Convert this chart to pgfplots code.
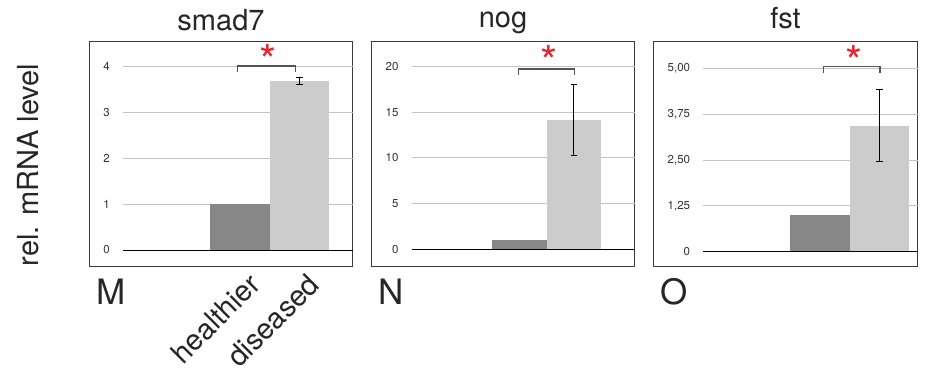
\documentclass[border=0pt]{standalone}
\usepackage{fontspec}
\setmainfont{TeX Gyre Heros}
\usepackage{pgfplots}
\pgfplotsset{compat=1.18}

\definecolor{barDark}{HTML}{878787}
\definecolor{barLight}{HTML}{CBCCCB}
\definecolor{gridGray}{HTML}{C4C4C4}
\definecolor{frameGray}{HTML}{3A3A3A}
\definecolor{brkGray}{HTML}{555555}
\definecolor{starRed}{HTML}{E5262E}

\tikzset{
  grid line/.style={gridGray, line width=1pt},
  zero line/.style={black, line width=1pt},
  bracket/.style={brkGray, line width=1.3pt},
  star/.style={text=starRed, anchor=base, yshift=-25pt,
    font=\fontsize{44}{44}\selectfont},
  letter/.style={anchor=base west, font=\fontsize{35}{35}\selectfont, text=black!85},
}

\pgfplotsset{
  panel/.style={
    scale only axis, clip=false,
    height=225pt,
    axis line style={draw=frameGray, line width=1.1pt},
    tick style={draw=none}, major tick length=0pt,
    xtick=\empty,
    yticklabel style={anchor=east, inner sep=0pt,
      font=\fontsize{11.5}{13}\selectfont, text=black!80},
    title style={at={(0.5,1)}, anchor=base,
      font=\fontsize{29}{34}\selectfont, text=black!85},
  },
  darkbar/.style={ybar, bar width=1, bar shift=0, fill=barDark, draw=none},
  lightbar/.style={ybar, bar width=1, bar shift=0, fill=barLight, draw=none,
    error bars/.cd, y dir=both, y explicit,
    error bar style={black, line width=1.2pt},
    error mark options={rotate=90, mark size=3.3pt, line width=1.2pt, black}},
}

\begin{document}
\begin{tikzpicture}
\path[use as bounding box] (0,0) rectangle (927pt,374pt);

% smad7
\begin{axis}[panel,
  at={(89.5pt,107.5pt)}, anchor=south west, width=263pt,
  xmin=-1.538, xmax=2.897, ymin=-0.360, ymax=4.552,
  ytick={0,1,2,3,4}, yticklabels={0,1,2,3,4},
  yticklabel style={xshift=20.5pt},
  xtick={1,2}, xticklabels={healthier,diseased},
  xticklabel style={xshift=22pt, yshift=-20pt, rotate=45, anchor=base east,
    inner sep=0pt, font=\fontsize{29}{34}\selectfont, text=black!85},
  title={smad7}, title style={yshift=4.5pt},
  ylabel={rel. mRNA level},
  every axis y label/.style={at={(axis description cs:-0.1958,0.451)},
    rotate=90, anchor=base, font=\fontsize{29}{34}\selectfont, text=black!85},
]
\draw[grid line] (axis cs:-0.973,1) -- (axis cs:2.897,1);
\draw[grid line] (axis cs:-0.973,2) -- (axis cs:2.897,2);
\draw[grid line] (axis cs:-0.973,3) -- (axis cs:2.897,3);
\draw[grid line] (axis cs:-0.973,4) -- (axis cs:2.897,4);
\addplot[darkbar] coordinates {(1,1)};
\addplot[lightbar] coordinates {(2,3.69) +- (0,0.08)};
\draw[zero line] (axis cs:-0.973,0) -- (axis cs:2.897,0);
\draw[bracket] ([yshift=-6pt]axis cs:0.96,4.02) -- (axis cs:0.96,4.02)
  -- (axis cs:1.93,4.02) -- ([yshift=-6pt]axis cs:1.93,4.02);
\node[star] at (axis cs:1.47,4.33) {*};
\node[letter] at ([xshift=3pt,yshift=-38pt]rel axis cs:0,0) {M};
\end{axis}

% nog
\begin{axis}[panel,
  at={(371.5pt,107.5pt)}, anchor=south west, width=263pt,
  xmin=-1.726, xmax=3.118, ymin=-1.884, ymax=22.76,
  ytick={0,5,10,15,20}, yticklabels={0,5,10,15,20},
  yticklabel style={xshift=27.2pt},
  title={nog}, title style={yshift=8.2pt},
]
\draw[grid line] (axis cs:-0.985,5) -- (axis cs:3.118,5);
\draw[grid line] (axis cs:-0.985,10) -- (axis cs:3.118,10);
\draw[grid line] (axis cs:-0.985,15) -- (axis cs:3.118,15);
\draw[grid line] (axis cs:-0.985,20) -- (axis cs:3.118,20);
\addplot[darkbar] coordinates {(1,1)};
\addplot[lightbar] coordinates {(2,14.15) +- (0,3.88)};
\draw[zero line] (axis cs:-0.985,0) -- (axis cs:3.118,0);
\draw[bracket] ([yshift=-6pt]axis cs:0.98,19.75) -- (axis cs:0.98,19.75)
  -- (axis cs:2.01,19.75) -- ([yshift=-6pt]axis cs:2.01,19.75);
\node[star] at (axis cs:1.54,21.5) {*};
\node[letter] at ([xshift=3pt,yshift=-38pt]rel axis cs:0,0) {N};
\end{axis}

% fst
\begin{axis}[panel,
  at={(653.5pt,107.5pt)}, anchor=south west, width=264pt,
  xmin=-1.798, xmax=2.639, ymin=-0.404, ymax=5.732,
  ytick={0,1.25,2.5,3.75,5}, yticklabels={0,{1,25},{2,50},{3,75},{5,00}},
  yticklabel style={xshift=36.8pt},
  title={fst}, title style={yshift=6.9pt},
]
\draw[grid line] (axis cs:-0.961,1.25) -- (axis cs:2.639,1.25);
\draw[grid line] (axis cs:-0.961,2.5) -- (axis cs:2.639,2.5);
\draw[grid line] (axis cs:-0.961,3.75) -- (axis cs:2.639,3.75);
\draw[grid line] (axis cs:-0.961,5) -- (axis cs:2.639,5);
\addplot[darkbar] coordinates {(1,1)};
\addplot[lightbar] coordinates {(2,3.44) +- (0,0.98)};
\draw[zero line] (axis cs:-0.961,0) -- (axis cs:2.639,0);
\draw[bracket] ([yshift=-6pt]axis cs:1.06,5.045) -- (axis cs:1.06,5.045)
  -- (axis cs:2.01,5.045) -- ([yshift=-6pt]axis cs:2.01,5.045);
\node[star] at (axis cs:1.57,5.42) {*};
\node[letter] at ([xshift=3.5pt,yshift=-38pt]rel axis cs:0,0) {O};
\end{axis}
\end{tikzpicture}
\end{document}
